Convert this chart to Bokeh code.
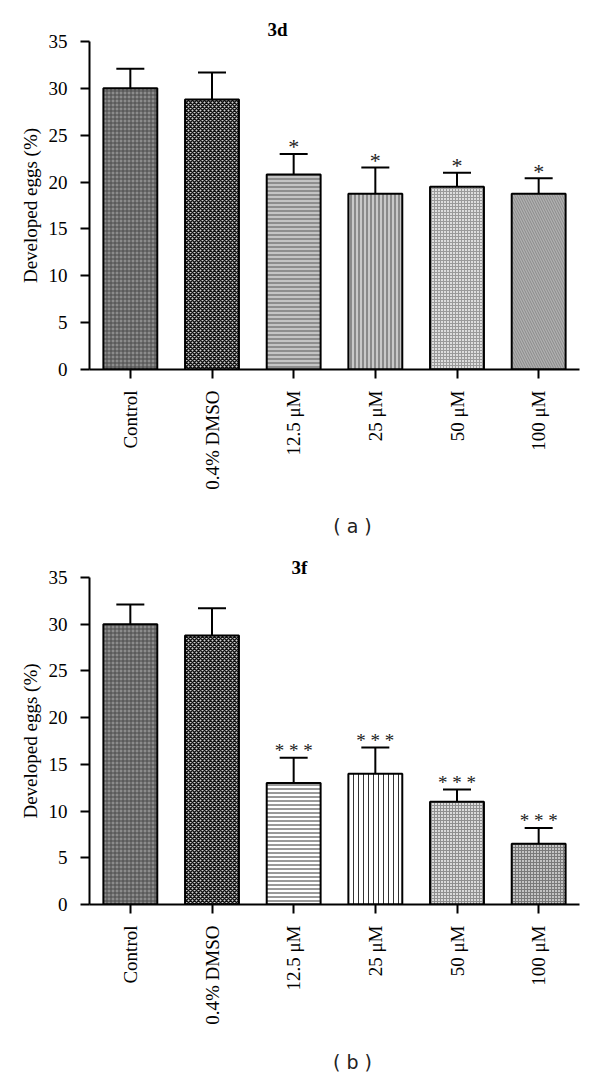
from bokeh.plotting import figure
from bokeh.models import (FactorRange, Range1d, ColumnDataSource, Whisker, TeeHead,
                          FixedTicker, Label)
from bokeh.layouts import column
from bokeh.core.properties import value
from bokeh.embed import file_html
from bokeh.resources import INLINE
import math

categories = ["Control", "0.4% DMSO", "12.5 μM", "25 μM", "50 μM", "100 μM"]

mean_3d = [30.0, 28.8, 20.8, 18.75, 19.5, 18.75]
sem_3d = [2.1, 2.9, 2.2, 2.8, 1.5, 1.65]
sig_3d = ["", "", "*", "*", "*", "*"]

mean_3f = [30.0, 28.8, 13.0, 14.0, 11.0, 6.5]
sem_3f = [2.1, 2.9, 2.7, 2.8, 1.3, 1.7]
sig_3f = ["", "", "* * *", "* * *", "* * *", "* * *"]

y_ticks = [0, 5, 10, 15, 20, 25, 30, 35]

# bar textures (fill, hatch pattern, hatch colour, hatch scale, hatch weight)
style_3d = dict(
    fill=["#8c8c8c", "#cfcfcf", "#c4c4c4", "#c8c8c8", "#dedede", "#b0b0b0"],
    hatch=["+", "x", "-", "|", "+", "\\"],
    hcolor=["#4a4a4a", "#111111", "#555555", "#4a4a4a", "#9a9a9a", "#8a8a8a"],
    hscale=[4, 4, 4, 4, 3, 5],
    hweight=[1, 1.5, 1, 1, 1, 1],
)
style_3f = dict(
    fill=["#8c8c8c", "#cfcfcf", "#ffffff", "#ffffff", "#dadada", "#c4c4c4"],
    hatch=["+", "x", "-", "|", "+", "+"],
    hcolor=["#4a4a4a", "#111111", "#333333", "#333333", "#8f8f8f", "#7a7a7a"],
    hscale=[4, 4, 4, 5, 3, 3],
    hweight=[1, 1.5, 1, 1, 1, 1],
)

SERIF = "Liberation Serif"


def make_panel(title, means, sems, sigs, style, height, top, bottom,
               title_offset, title_standoff):
    upper = [m + s for m, s in zip(means, sems)]
    sig_size = ["22px" if len(s) == 1 else "19px" for s in sigs]
    src = ColumnDataSource(dict(
        x=categories, top=means, upper=upper, sig=sigs, sig_size=sig_size,
        fill=style["fill"], hatch=style["hatch"], hcolor=style["hcolor"],
        hscale=style["hscale"], hweight=style["hweight"],
    ))
    p = figure(x_range=FactorRange(*categories, range_padding=0),
               y_range=Range1d(0, 35),
               width=600, height=height, output_backend="svg",
               toolbar_location=None,
               min_border_left=89, min_border_right=21,
               min_border_top=top, min_border_bottom=bottom)
    p.outline_line_color = None
    p.xgrid.visible = False
    p.ygrid.visible = False

    p.title.text = title
    p.title.align = "left"
    p.title.offset = title_offset
    p.title.standoff = title_standoff
    p.title.text_font = SERIF
    p.title.text_font_size = "19px"
    p.title.text_font_style = "bold"
    p.title.text_color = "black"

    p.vbar(x="x", top="top", width=0.66, source=src,
           fill_color="fill", line_color="black", line_width=2,
           hatch_pattern="hatch", hatch_color="hcolor", hatch_scale="hscale",
           hatch_weight="hweight")

    w = Whisker(source=src, base="x", upper="upper", lower="top",
                line_width=2, line_color="black",
                upper_head=TeeHead(size=28, line_width=2, line_color="black"),
                lower_head=None)
    p.add_layout(w)

    p.text(x="x", y="upper", text="sig", source=src, text_align="center",
           text_baseline="alphabetic", y_offset=-7,
           text_font=value(SERIF), text_font_size="sig_size", text_color="#222222")

    # axes
    p.yaxis.ticker = FixedTicker(ticks=y_ticks)
    p.yaxis.axis_label = "Developed eggs (%)"
    for ax in (p.xaxis[0], p.yaxis[0]):
        ax.axis_line_width = 2
        ax.major_tick_line_width = 2
        ax.major_tick_out = 9
        ax.major_tick_in = 0
        ax.minor_tick_line_color = None
        ax.major_label_text_font = SERIF
        ax.major_label_text_font_size = "19px"
        ax.major_label_text_color = "black"
        ax.axis_label_text_font = SERIF
        ax.axis_label_text_font_size = "19px"
        ax.axis_label_text_font_style = "normal"
        ax.axis_label_text_color = "black"
    p.yaxis.major_label_standoff = 13
    p.yaxis.axis_label_standoff = 5
    p.xaxis.major_label_orientation = math.pi / 2
    p.xaxis.major_label_standoff = 12
    return p


def make_caption(text, height, center_from_top):
    c = figure(width=600, height=height, x_range=Range1d(0, 600),
               y_range=Range1d(0, height), output_backend="svg",
               toolbar_location=None, x_axis_location=None,
               y_axis_location=None, min_border=0, title=None)
    c.outline_line_color = None
    c.xgrid.visible = False
    c.ygrid.visible = False
    c.add_layout(Label(x=322, y=height - center_from_top, text=text,
                       text_align="center", text_baseline="middle",
                       text_font="DejaVu Sans", text_font_size="19px",
                       text_color="#222222"))
    return c


p1 = make_panel("3d", mean_3d, sem_3d, sig_3d, style_3d,
                height=500, top=41, bottom=131,
                title_offset=178, title_standoff=4)
cap_a = make_caption("( a )", 42, 25)
p2 = make_panel("3f", mean_3f, sem_3f, sig_3f, style_3f,
                height=492, top=35, bottom=130,
                title_offset=202, title_standoff=0)
cap_b = make_caption("( b )", 41, 27)

layout = column(p1, cap_a, p2, cap_b, spacing=0)
open("out.html", "w").write(file_html(layout, INLINE))
